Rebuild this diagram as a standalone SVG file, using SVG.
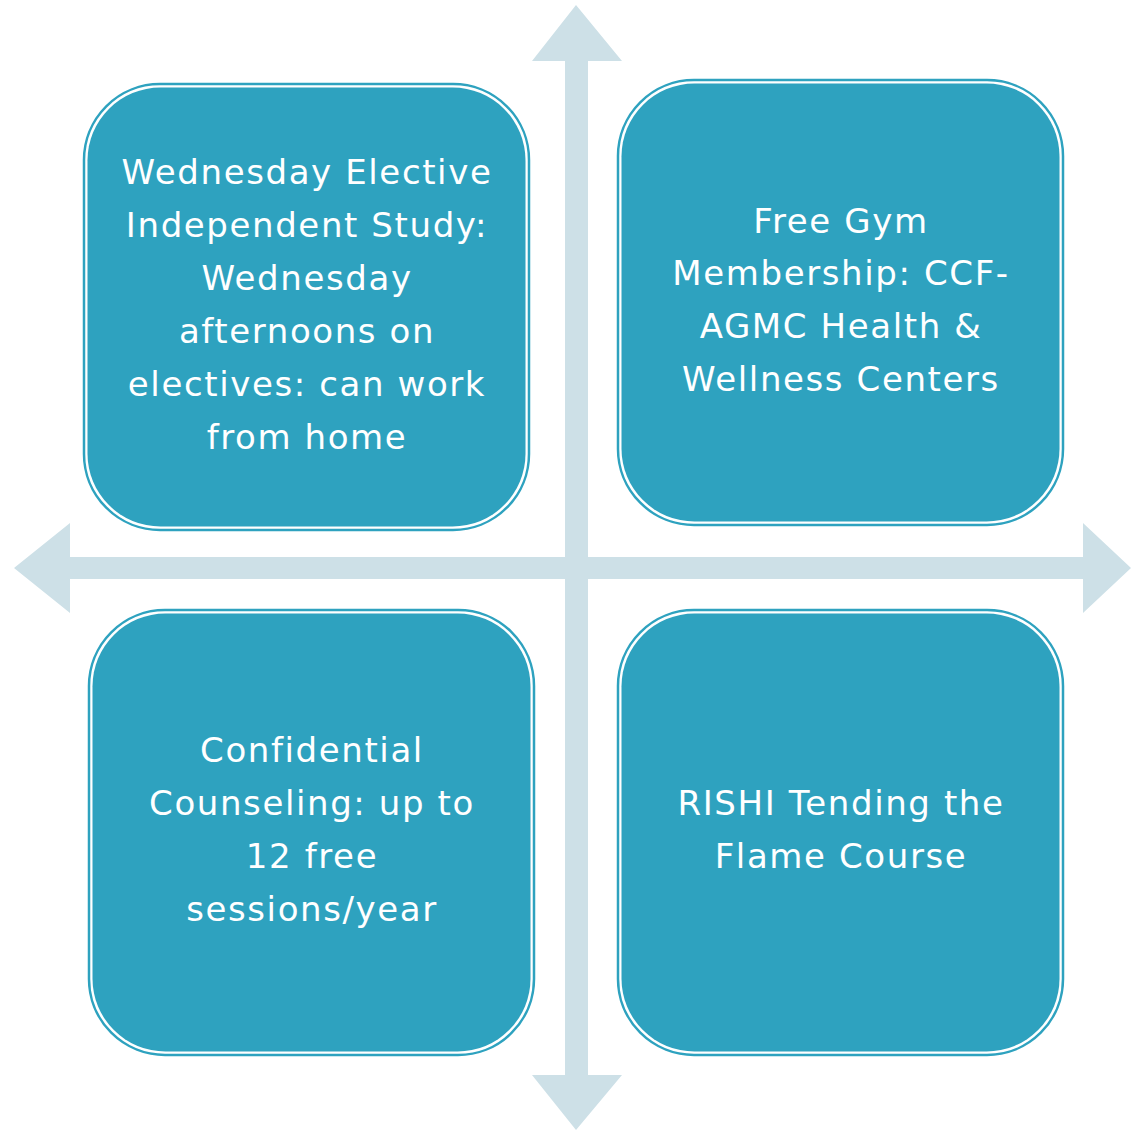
<svg xmlns="http://www.w3.org/2000/svg" width="1131" height="1130" viewBox="0 0 1131 1130">
<style>
.arr{fill:#CDE0E7;}
.ring{fill:none;stroke:#2EA2BF;stroke-width:2.5;}
.box{fill:#2EA2BF;}
.t{fill:#FFFFFF;font-family:"DejaVu Sans",Verdana,sans-serif;font-size:34px;text-anchor:middle;letter-spacing:1.6px;}
</style>
<rect width="1131" height="1130" fill="#FFFFFF"/>
<g id="connectors">
<polygon class="arr" points="576,5 622,61 588,61 588,557 1083,557 1083,523 1131,568 1083,613 1083,579 588,579 588,1075 622,1075 576,1130 532,1075 565,1075 565,579 70,579 70,613 14,568 70,523 70,557 565,557 565,61 532,61"/>
</g>
<g id="node1">
<rect class="ring" x="84" y="84" width="445" height="446" rx="76"/>
<rect class="box" x="87.5" y="87.5" width="438" height="439" rx="73"/>
<text class="t" x="307" y="184">Wednesday Elective</text>
<text class="t" x="307" y="237">Independent Study:</text>
<text class="t" x="307" y="290">Wednesday</text>
<text class="t" x="307" y="343">afternoons on</text>
<text class="t" x="307" y="396">electives: can work</text>
<text class="t" x="307" y="449">from home</text>
</g>
<g id="node2">
<rect class="ring" x="618" y="80" width="445" height="445" rx="76"/>
<rect class="box" x="621.5" y="83.5" width="438" height="438" rx="73"/>
<text class="t" x="841" y="233">Free Gym</text>
<text class="t" x="841" y="285">Membership: CCF-</text>
<text class="t" x="841" y="338">AGMC Health &amp;</text>
<text class="t" x="841" y="391">Wellness Centers</text>
</g>
<g id="node3">
<rect class="ring" x="89" y="610" width="445" height="445" rx="76"/>
<rect class="box" x="92.5" y="613.5" width="438" height="438" rx="73"/>
<text class="t" x="312" y="762">Confidential</text>
<text class="t" x="312" y="815">Counseling: up to</text>
<text class="t" x="312" y="868">12 free</text>
<text class="t" x="312" y="921">sessions/year</text>
</g>
<g id="node4">
<rect class="ring" x="618" y="610" width="445" height="445" rx="76"/>
<rect class="box" x="621.5" y="613.5" width="438" height="438" rx="73"/>
<text class="t" x="841" y="815">RISHI Tending the</text>
<text class="t" x="841" y="868">Flame Course</text>
</g>
</svg>
